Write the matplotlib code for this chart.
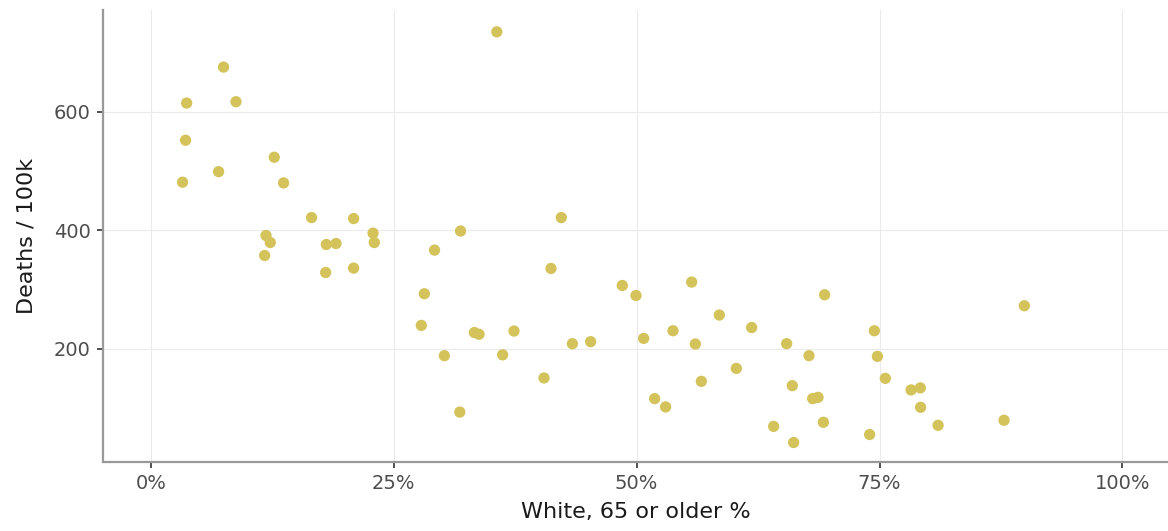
import numpy as np
import matplotlib.pyplot as plt
from matplotlib.ticker import FuncFormatter

plt.rcParams['font.family'] = ['DejaVu Sans']

# share of population that is white and 65+, in percent
white_65 = [3.25, 3.56, 3.67, 6.96, 7.47, 8.75, 11.84, 11.70, 12.28, 12.69,
            13.65, 16.53, 18.05, 17.98, 19.05, 20.86, 20.86, 22.86, 22.99, 27.83,
            28.14, 29.19, 30.20, 31.79, 31.87, 33.29, 33.77, 35.60, 36.20, 37.37,
            40.46, 41.18, 42.24, 43.38, 45.26, 48.52, 49.93, 50.72, 51.85, 52.98,
            53.74, 55.66, 56.04, 56.66, 58.51, 60.26, 61.84, 64.10, 65.44, 66.02,
            66.16, 67.74, 68.12, 68.67, 69.22, 69.35, 73.98, 74.47, 74.78, 75.60,
            78.25, 79.20, 79.23, 81.03, 87.82, 89.91]
# deaths per 100k
deaths = [481.5, 552.3, 615.1, 499.3, 675.8, 617.3, 391.5, 357.8, 379.7, 523.6,
          480.3, 421.8, 376.3, 329.1, 378.0, 420.1, 336.5, 395.5, 379.7, 239.8,
          293.2, 366.9, 188.7, 93.5, 399.1, 227.8, 224.9, 735.3, 190.1, 230.3,
          151.1, 335.9, 421.8, 208.9, 212.3, 307.2, 290.3, 217.9, 116.2, 102.2,
          230.8, 312.9, 208.4, 145.4, 257.3, 167.3, 236.2, 69.4, 208.9, 138.1,
          42.1, 188.7, 116.2, 118.4, 76.3, 291.5, 55.6, 230.8, 187.5, 150.4,
          130.9, 134.3, 101.6, 71.2, 79.7, 273.0]

x_ticks = [0, 25, 50, 75, 100]
y_ticks = [200, 400, 600]

fig = plt.figure(figsize=(11.68, 5.31), dpi=100)
ax = fig.add_axes([0.0882, 0.130, 0.9118, 0.851])

ax.scatter(white_65, deaths, s=66, color='#d4c35a', edgecolors='none', zorder=3)

ax.set_xlim(-4.94, 104.7)
ax.set_ylim(9.3, 772)
ax.set_xticks(x_ticks)
ax.set_yticks(y_ticks)
ax.xaxis.set_major_formatter(FuncFormatter(lambda v, p: f'{v:.0f}%'))

ax.grid(True, color='#ebebeb', linewidth=0.8, zorder=0)
ax.set_axisbelow(True)
for side in ['top', 'right']:
    ax.spines[side].set_visible(False)
for side in ['left', 'bottom']:
    ax.spines[side].set_color('#999999')
    ax.spines[side].set_linewidth(1.6)

ax.tick_params(axis='both', length=4, width=1.2, color='#333333',
               labelcolor='#4d4d4d', labelsize=14, pad=5)

ax.set_xlabel('White, 65 or older %', fontsize=16, color='#1a1a1a', labelpad=6)
ax.set_ylabel('Deaths / 100k', fontsize=16, color='#1a1a1a', labelpad=12)

fig.savefig('out.png', dpi=100)
